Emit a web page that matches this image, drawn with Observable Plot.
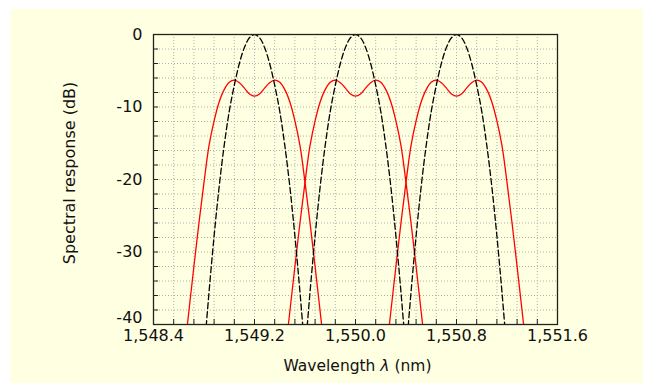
<!DOCTYPE html>
<html><head><meta charset="utf-8">
<script src="https://cdn.jsdelivr.net/npm/d3@7"></script>
<script src="https://cdn.jsdelivr.net/npm/@observablehq/plot@0.6"></script>
<style>
body{margin:0;background:#fff;}
#wrap{position:relative;width:651px;height:383px;overflow:hidden;}
#bg{position:absolute;left:10px;top:9px;width:633px;height:374px;background:#FFFFE1;}
#chart{position:absolute;left:0;top:0;}
</style></head><body>
<div id="wrap"><div id="bg"></div><div id="chart"></div></div>
<script>
// Channel centre wavelengths (nm)
const centers = [1549.2, 1550.0, 1550.8];
// Flat-top (red) channel profile: offset from centre (nm) and response (dB)
const redOffsets = [-0.56,-0.52,-0.48,-0.44,-0.40,-0.36,-0.32,-0.28,-0.24,-0.20,-0.16,-0.12,-0.08,-0.04,0,0.04,0.08,0.12,0.16,0.20,0.24,0.28,0.32,0.36,0.40,0.44,0.48,0.52,0.56];
const redDb = [-44.5,-38.2,-32.0,-26.0,-20.4,-15.3,-11.9,-9.3,-7.6,-6.6,-6.3,-6.65,-7.4,-8.2,-8.5,-8.2,-7.4,-6.65,-6.3,-6.6,-7.6,-9.3,-11.9,-15.3,-20.4,-26.0,-32.0,-38.2,-44.5];
// Gaussian (black dashed) channel profile
const dashOffsets = [-0.40,-0.36,-0.32,-0.28,-0.24,-0.20,-0.16,-0.12,-0.08,-0.04,0,0.04,0.08,0.12,0.16,0.20,0.24,0.28,0.32,0.36,0.40];
const dashDb = [-44,-35.5,-27.8,-21.0,-15.3,-10.6,-7.0,-4.0,-1.8,-0.45,0,-0.45,-1.8,-4.0,-7.0,-10.6,-15.3,-21.0,-27.8,-35.5,-44];
// Axis ticks
const xTicks = [1548.4, 1549.2, 1550.0, 1550.8, 1551.6];
const yTicks = [0, -10, -20, -30, -40];
const xLabel = "Wavelength λ (nm)";
const yLabel = "Spectral response (dB)";

const xMinor = d3.range(0, 21).map(k => +(1548.4 + 0.16 * k).toFixed(2));
const yMinor = d3.range(0, 21).map(k => -2 * k);

const redRows = centers.flatMap((c, i) => redOffsets.map((o, j) => ({ch: i, x: c + o, y: redDb[j]})));
const dashRows = centers.flatMap((c, i) => dashOffsets.map((o, j) => ({ch: i, x: c + o, y: dashDb[j]})));

const W = 651, H = 383, mL = 153, mR = 94, mT = 34, mB = 59;
const font = "'DejaVu Sans', sans-serif";

const chart = Plot.plot({
  width: W, height: H,
  marginLeft: mL, marginRight: mR, marginTop: mT, marginBottom: mB,
  style: {background: "transparent", fontFamily: font, color: "#111"},
  x: {domain: [1548.4, 1551.6]},
  y: {domain: [-40, 0]},
  marks: [
    Plot.gridX(xMinor.slice(1, -1), {stroke: "#b0b0b0", strokeOpacity: 1, strokeDasharray: "1,2", strokeWidth: 1}),
    Plot.gridY(yMinor.slice(1, -1), {stroke: "#b0b0b0", strokeOpacity: 1, strokeDasharray: "1,2", strokeWidth: 1}),
    Plot.line(redRows, {x: "x", y: "y", z: "ch", stroke: "#ff0000", strokeWidth: 1.3, curve: "catmull-rom", clip: true}),
    Plot.line(dashRows, {x: "x", y: "y", z: "ch", stroke: "#000", strokeWidth: 1.3, strokeDasharray: "6,3", curve: "catmull-rom", clip: true}),
    Plot.tickY(yMinor, {y: d => d, stroke: "#222", insetRight: W - mL - mR - 5}),
    Plot.tickX(xMinor, {x: d => d, stroke: "#222", insetTop: H - mT - mB - 5}),
    Plot.axisY(yTicks.filter(d => d !== -40), {tickSize: 0, tickPadding: 11, fontSize: 16, tickFormat: d => String(d), label: null}),
    Plot.axisY([-40], {tickSize: 0, tickPadding: 11, fontSize: 16, dy: -6.5, tickFormat: d => String(d), label: null}),
    Plot.axisX(xTicks, {tickSize: 0, tickPadding: 5, fontSize: 16, tickFormat: d3.format(",.1f"), label: null}),
    Plot.frame({stroke: "#222", strokeWidth: 1.3}),
    Plot.text([yLabel], {frameAnchor: "left", textAnchor: "middle", lineAnchor: "middle", rotate: -90, dx: -84, dy: -6.5, fontSize: 16, fill: "#111"}),
    Plot.text([xLabel], {frameAnchor: "bottom", textAnchor: "middle", lineAnchor: "bottom", dx: 2, dy: 46.5, fontSize: 15.5, fill: "#111"})
  ]
});
document.getElementById("chart").appendChild(chart);

// italic lambda in the x-axis label
d3.select(chart).selectAll("text").each(function() {
  if (this.textContent === xLabel) {
    const t = d3.select(this);
    t.text(null);
    t.append("tspan").text("Wavelength ");
    t.append("tspan").attr("font-style", "italic").text("λ");
    t.append("tspan").text(" (nm)");
  }
});
</script>
</body></html>
